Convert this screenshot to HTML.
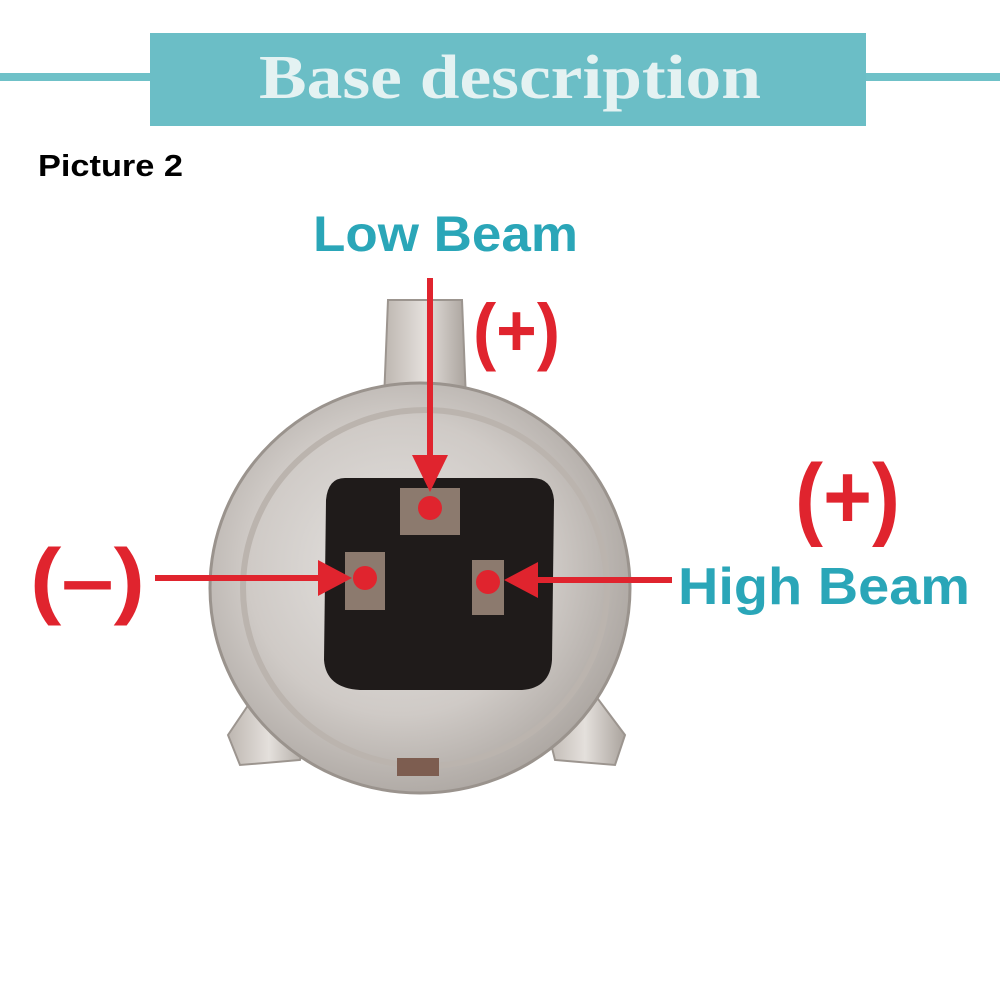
<!DOCTYPE html>
<html><head><meta charset="utf-8">
<style>
html,body{margin:0;padding:0;background:#fff;}
#wrap{position:relative;width:1000px;height:1000px;overflow:hidden;background:#fff;}
svg{position:absolute;left:0;top:0;}
</style></head>
<body>
<div id="wrap">
<svg width="1000" height="1000" viewBox="0 0 1000 1000">
  <defs>
    <radialGradient id="metal" cx="0.45" cy="0.45" r="0.6">
      <stop offset="0" stop-color="#e6e4e2"/>
      <stop offset="0.6" stop-color="#cfcac6"/>
      <stop offset="1" stop-color="#a9a39e"/>
    </radialGradient>
    <linearGradient id="tab" x1="0" y1="0" x2="1" y2="0">
      <stop offset="0" stop-color="#bdb6b0"/>
      <stop offset="0.5" stop-color="#e4e0dc"/>
      <stop offset="1" stop-color="#aaa39d"/>
    </linearGradient>
  </defs>
  <rect x="0" y="73" width="1000" height="8" fill="#6fc1c8"/>
  <rect x="150" y="33" width="716" height="93" fill="#6bbec6"/>
  <text x="259" y="98" textLength="502" lengthAdjust="spacingAndGlyphs" font-family="Liberation Serif, serif" font-weight="bold" font-size="62" fill="#e4f2f2">Base description</text>
  <text x="38" y="176" textLength="145" lengthAdjust="spacingAndGlyphs" font-family="Liberation Sans, sans-serif" font-weight="bold" font-size="31" fill="#000">Picture 2</text>

  <g>
    <path d="M388 300 L462 300 L466 400 L384 400 Z" fill="url(#tab)" stroke="#9c958f" stroke-width="2"/>
    <path d="M228 735 L255 695 L310 720 L300 760 L240 765 Z" fill="url(#tab)" stroke="#9c958f" stroke-width="2"/>
    <path d="M625 735 L595 695 L545 720 L555 760 L615 765 Z" fill="url(#tab)" stroke="#9c958f" stroke-width="2"/>
    <ellipse cx="420" cy="588" rx="210" ry="205" fill="url(#metal)" stroke="#9a938d" stroke-width="3"/>
    <ellipse cx="425" cy="588" rx="182" ry="178" fill="none" stroke="#bbb4ae" stroke-width="6"/>
    <path d="M345 478 Q328 478 326 500 L324 660 Q326 688 360 690 L522 690 Q550 688 552 660 L554 500 Q552 478 532 478 Z" fill="#1f1b1a"/>
    <rect x="400" y="488" width="60" height="47" fill="#8c7a6e"/>
    <rect x="345" y="552" width="40" height="58" fill="#8c7a6e"/>
    <rect x="472" y="560" width="32" height="55" fill="#8c7a6e"/>
    <rect x="397" y="758" width="42" height="18" fill="#7d5d50"/>
  </g>

  <text x="313" y="251" textLength="265" lengthAdjust="spacingAndGlyphs" font-family="Liberation Sans, sans-serif" font-weight="bold" font-size="50" fill="#2aa6b8">Low Beam</text>
  <text x="678" y="604" textLength="292" lengthAdjust="spacingAndGlyphs" font-family="Liberation Sans, sans-serif" font-weight="bold" font-size="52" fill="#2aa6b8">High Beam</text>
  <text x="473" y="356" textLength="87" lengthAdjust="spacingAndGlyphs" font-family="Liberation Sans, sans-serif" font-weight="bold" font-size="74" fill="#e0242e">(+)</text>
  <text x="795" y="528" textLength="105" lengthAdjust="spacingAndGlyphs" font-family="Liberation Sans, sans-serif" font-weight="bold" font-size="92" fill="#e0242e">(+)</text>
  <text x="30" y="608" textLength="115" lengthAdjust="spacingAndGlyphs" font-family="Liberation Sans, sans-serif" font-weight="bold" font-size="84" fill="#e0242e">(–)</text>

  <g fill="#e0242e" stroke="#e0242e">
    <line x1="430" y1="278" x2="430" y2="470" stroke-width="6"/>
    <polygon points="412,455 448,455 430,492" stroke="none"/>
    <circle cx="430" cy="508" r="12" stroke="none"/>
    <line x1="155" y1="578" x2="330" y2="578" stroke-width="6"/>
    <polygon points="318,560 318,596 352,578" stroke="none"/>
    <circle cx="365" cy="578" r="12" stroke="none"/>
    <line x1="672" y1="580" x2="525" y2="580" stroke-width="6"/>
    <polygon points="538,562 538,598 504,580" stroke="none"/>
    <circle cx="488" cy="582" r="12" stroke="none"/>
  </g>
</svg>
</div>
</body></html>
